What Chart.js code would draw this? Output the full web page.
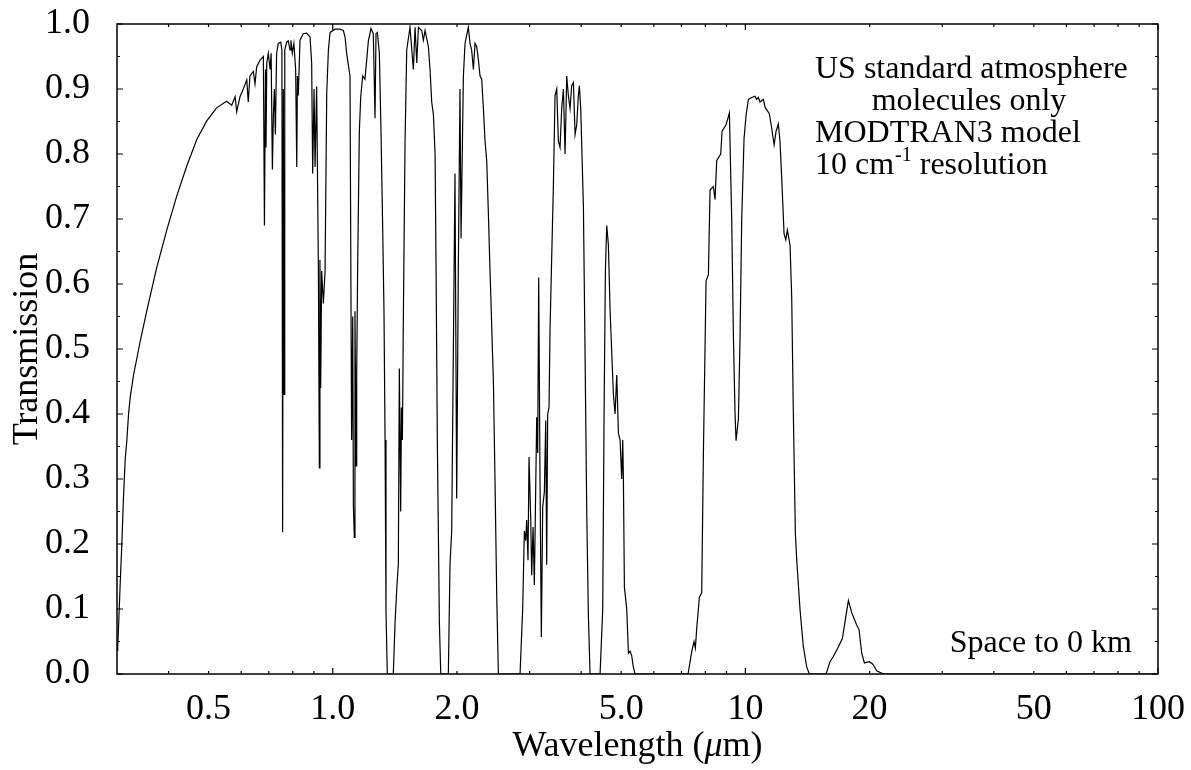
<!DOCTYPE html>
<html>
<head>
<meta charset="utf-8">
<script src="https://cdn.jsdelivr.net/npm/chart.js@4.4.1/dist/chart.umd.min.js"></script>
<style>
  html, body { margin: 0; padding: 0; background: #fff; }
</style>
</head>
<body>
<canvas id="graph" width="1191" height="770"></canvas>
<script>
// Wavelength (um) and transmission
const wavelength = [
  0.301, 0.305, 0.308, 0.311, 0.314, 0.317, 0.320, 0.323, 0.329, 0.335,
  0.341, 0.354, 0.374, 0.396, 0.419, 0.443, 0.468, 0.495, 0.523, 0.553,
  0.569, 0.580, 0.585, 0.596, 0.607, 0.619, 0.624, 0.630, 0.642, 0.648,
  0.654, 0.666, 0.679, 0.683, 0.687, 0.689, 0.692, 0.698, 0.705, 0.709,
  0.714, 0.718, 0.722, 0.726, 0.731, 0.738, 0.748, 0.753, 0.756, 0.759,
  0.762, 0.765, 0.773, 0.780, 0.788, 0.792, 0.798, 0.805, 0.813, 0.818,
  0.821, 0.825, 0.833, 0.848, 0.864, 0.881, 0.889, 0.894, 0.901, 0.906,
  0.914, 0.923, 0.928, 0.931, 0.935, 0.940, 0.949, 0.958, 0.967, 0.976,
  0.985, 1.013, 1.041, 1.061, 1.071, 1.081, 1.101, 1.111, 1.118, 1.122,
  1.128, 1.132, 1.139, 1.143, 1.149, 1.160, 1.169, 1.182, 1.197, 1.220,
  1.238, 1.254, 1.266, 1.273, 1.283, 1.297, 1.309, 1.321, 1.331, 1.339,
  1.346, 1.356, 1.402, 1.416, 1.429, 1.442, 1.450, 1.461, 1.467, 1.475,
  1.483, 1.497, 1.511, 1.539, 1.568, 1.583, 1.598, 1.613, 1.643, 1.658,
  1.674, 1.705, 1.721, 1.737, 1.754, 1.770, 1.780, 1.793, 1.813, 1.827,
  1.906, 1.924, 1.942, 1.978, 1.997, 2.015, 2.034, 2.046, 2.073, 2.092,
  2.131, 2.151, 2.171, 2.192, 2.212, 2.233, 2.254, 2.275, 2.296, 2.318,
  2.339, 2.361, 2.383, 2.405, 2.419, 2.437, 2.451, 2.474, 2.497, 2.520,
  2.844, 2.886, 2.913, 2.935, 2.951, 2.973, 2.990, 3.018, 3.035, 3.058,
  3.080, 3.121, 3.138, 3.156, 3.179, 3.203, 3.227, 3.257, 3.282, 3.300,
  3.318, 3.343, 3.362, 3.393, 3.425, 3.457, 3.490, 3.522, 3.555, 3.588,
  3.622, 3.656, 3.690, 3.724, 3.759, 3.794, 3.830, 3.866, 3.902, 3.938,
  3.960, 3.990, 4.050, 4.088, 4.126, 4.164, 4.203, 4.445, 4.511, 4.545,
  4.579, 4.613, 4.656, 4.700, 4.788, 4.833, 4.878, 4.924, 4.970, 5.016,
  5.044, 5.063, 5.091, 5.158, 5.206, 5.255, 5.304, 5.353, 5.404, 7.262,
  7.412, 7.509, 7.565, 7.622, 7.736, 7.837, 7.911, 8.030, 8.135, 8.211,
  8.365, 8.443, 8.522, 8.715, 8.780, 8.978, 9.062, 9.146, 9.266, 9.353,
  9.440, 9.493, 9.618, 9.708, 9.798, 9.925, 10.04, 10.17, 10.36, 10.55,
  10.65, 10.75, 10.85, 11.06, 11.16, 11.27, 11.43, 11.58, 11.74, 11.87,
  12.02, 12.13, 12.25, 12.41, 12.53, 12.64, 12.83, 12.95, 13.07, 13.22,
  13.32, 13.57, 13.82, 14.08, 14.29, 15.69, 16.04, 16.34, 16.81, 17.19,
  17.51, 17.77, 18.11, 18.62, 18.86, 19.14, 19.43, 19.98, 20.36, 20.81,
  21.60, 100
];
const transmission = [
  0.035, 0.13, 0.195, 0.27, 0.33, 0.36, 0.40, 0.426, 0.46, 0.485,
  0.51, 0.558, 0.624, 0.683, 0.736, 0.782, 0.822, 0.851, 0.871, 0.881,
  0.875, 0.888, 0.865, 0.888, 0.90, 0.914, 0.88, 0.92, 0.927, 0.908,
  0.934, 0.944, 0.95, 0.69, 0.93, 0.81, 0.94, 0.955, 0.93, 0.955,
  0.776, 0.86, 0.90, 0.83, 0.955, 0.97, 0.972, 0.96, 0.218, 0.90,
  0.43, 0.96, 0.972, 0.974, 0.96, 0.975, 0.955, 0.97, 0.93, 0.78,
  0.92, 0.89, 0.975, 0.985, 0.986, 0.98, 0.94, 0.77, 0.90, 0.78,
  0.904, 0.624, 0.317, 0.637, 0.44, 0.62, 0.57, 0.62, 0.894, 0.96,
  0.987, 0.992, 0.992, 0.99, 0.98, 0.954, 0.92, 0.36, 0.55, 0.26,
  0.21, 0.558, 0.32, 0.465, 0.624, 0.835, 0.888, 0.92, 0.915, 0.974,
  0.993, 0.985, 0.855, 0.985, 0.987, 0.955, 0.835, 0.69, 0.558, 0.36,
  0.096, 0, 0, 0.08, 0.13, 0.17, 0.47, 0.25, 0.41, 0.36,
  0.55, 0.82, 0.96, 0.995, 0.93, 0.995, 0.94, 0.995, 0.99, 0.975,
  0.99, 0.965, 0.93, 0.88, 0.86, 0.80, 0.62, 0.35, 0.08, 0,
  0, 0.17, 0.22, 0.77, 0.27, 0.62, 0.90, 0.67, 0.92, 0.97,
  0.995, 0.97, 0.96, 0.93, 0.97, 0.965, 0.945, 0.92, 0.915, 0.87,
  0.82, 0.79, 0.71, 0.62, 0.57, 0.50, 0.45, 0.29, 0.12, 0,
  0, 0.10, 0.22, 0.205, 0.237, 0.175, 0.334, 0.24, 0.152, 0.226,
  0.137, 0.395, 0.34, 0.61, 0.30, 0.057, 0.257, 0.28, 0.39, 0.168,
  0.40, 0.41, 0.53, 0.64, 0.75, 0.89, 0.90, 0.82, 0.81, 0.87,
  0.90, 0.80, 0.92, 0.89, 0.87, 0.905, 0.91, 0.83, 0.845, 0.89,
  0.905, 0.87, 0.72, 0.49, 0.25, 0.09, 0, 0, 0.10, 0.40,
  0.62, 0.69, 0.66, 0.56, 0.43, 0.40, 0.46, 0.37, 0.36, 0.30,
  0.36, 0.30, 0.134, 0.10, 0.032, 0.035, 0.028, 0.01, 0, 0,
  0.034, 0.05, 0.04, 0.07, 0.118, 0.125, 0.337, 0.605, 0.614, 0.745,
  0.75, 0.73, 0.79, 0.80, 0.835, 0.845, 0.854, 0.863, 0.70, 0.52,
  0.40, 0.359, 0.392, 0.52, 0.70, 0.823, 0.86, 0.884, 0.887, 0.889,
  0.884, 0.887, 0.88, 0.884, 0.872, 0.868, 0.862, 0.84, 0.814, 0.835,
  0.846, 0.82, 0.762, 0.677, 0.668, 0.683, 0.66, 0.58, 0.40, 0.215,
  0.175, 0.098, 0.042, 0.011, 0, 0, 0.019, 0.027, 0.042, 0.055,
  0.088, 0.113, 0.094, 0.075, 0.068, 0.032, 0.017, 0.019, 0.015, 0.005,
  0, 0
];

const xTickValues = [0.5, 1, 2, 5, 10, 20, 50, 100];
const xTickLabels = ["0.5", "1.0", "2.0", "5.0", "10", "20", "50", "100"];
const yTickValues = [0, 0.1, 0.2, 0.3, 0.4, 0.5, 0.6, 0.7, 0.8, 0.9, 1.0];
const xTitleParts = ["Wavelength (", "\u03bc", "m)"];
const noteLines = ["US standard atmosphere", "molecules only", "MODTRAN3 model"];
const resolutionNote = ["10 cm", "-1", " resolution"];
const cornerNote = "Space to 0 km";

const serif = "'Liberation Serif', 'Times New Roman', serif";

// minor ticks between decades, major ticks on decades
const xMajor = [1, 10, 100];
const xMinor = [];
[0.1, 1, 10].forEach(d => {
  for (let k = 2; k <= 9; k++) {
    const v = +(k * d).toFixed(2);
    if (v > 0.31 && v < 100) xMinor.push(v);
  }
});
const yMinor = yTickValues.slice(0, -1).map(v => +(v + 0.05).toFixed(2));

const frame = {
  id: "frame",
  afterDatasetsDraw(chart) {
    const { ctx, chartArea: a } = chart;
    const x = chart.scales.x;
    const y = chart.scales.y;
    ctx.save();
    ctx.strokeStyle = "#000";
    ctx.lineWidth = 1.5;
    ctx.strokeRect(a.left, a.top, a.right - a.left, a.bottom - a.top);

    ctx.lineWidth = 1.2;
    ctx.beginPath();
    const tickX = (v, len) => {
      const px = x.getPixelForValue(v);
      ctx.moveTo(px, a.bottom); ctx.lineTo(px, a.bottom - len);
      ctx.moveTo(px, a.top); ctx.lineTo(px, a.top + len);
    };
    const tickY = (v, len) => {
      const py = y.getPixelForValue(v);
      ctx.moveTo(a.left, py); ctx.lineTo(a.left + len, py);
      ctx.moveTo(a.right, py); ctx.lineTo(a.right - len, py);
    };
    xMinor.forEach(v => tickX(v, 3));
    xMajor.forEach(v => tickX(v, 6));
    yMinor.forEach(v => tickY(v, 3));
    yTickValues.forEach(v => tickY(v, 6));
    ctx.stroke();

    ctx.fillStyle = "#000";
    ctx.textBaseline = "alphabetic";

    // x axis title with italic mu
    const upright = "36px " + serif;
    const italic = "italic 36px " + serif;
    ctx.font = upright;
    const w0 = ctx.measureText(xTitleParts[0]).width;
    const w2 = ctx.measureText(xTitleParts[2]).width;
    ctx.font = italic;
    const w1 = ctx.measureText(xTitleParts[1]).width;
    let tx = (a.left + a.right) / 2 - (w0 + w1 + w2) / 2;
    ctx.textAlign = "left";
    ctx.font = upright;
    ctx.fillText(xTitleParts[0], tx, 756);
    ctx.font = italic;
    ctx.fillText(xTitleParts[1], tx + w0, 756);
    ctx.font = upright;
    ctx.fillText(xTitleParts[2], tx + w0 + w1, 756);

    // text notes
    ctx.font = "32px " + serif;
    ctx.fillText(noteLines[0], 815, 78);
    ctx.textAlign = "center";
    ctx.fillText(noteLines[1], 969, 110);
    ctx.textAlign = "left";
    ctx.fillText(noteLines[2], 815, 142);

    let cx = 815;
    ctx.fillText(resolutionNote[0], cx, 174);
    cx += ctx.measureText(resolutionNote[0]).width + 1;
    ctx.font = "20px " + serif;
    ctx.fillText(resolutionNote[1], cx, 161);
    cx += ctx.measureText(resolutionNote[1]).width;
    ctx.font = "32px " + serif;
    ctx.fillText(resolutionNote[2], cx, 174);

    ctx.textAlign = "right";
    ctx.fillText(cornerNote, 1132, 652);
    ctx.restore();
  }
};

new Chart(document.getElementById("graph"), {
  type: "line",
  data: {
    datasets: [
      {
        label: "Transmission",
        data: wavelength.map((w, i) => ({ x: w, y: transmission[i] })),
        borderColor: "#000",
        borderWidth: 1.2,
        pointRadius: 0,
        tension: 0,
        fill: false,
      },
    ],
  },
  options: {
    responsive: false,
    animation: false,
    layout: { padding: { left: 0, top: 24, right: 33, bottom: 0 } },
    plugins: { legend: { display: false }, tooltip: { enabled: false } },
    scales: {
      x: {
        type: "logarithmic",
        min: 0.3,
        max: 100,
        grid: { display: false },
        border: { display: false },
        afterBuildTicks: (scale) => {
          scale.ticks = xTickValues.map(v => ({ value: v }));
        },
        afterFit: (scale) => {
          scale.height = 96;
          scale.paddingLeft = 0;
          scale.paddingRight = 0;
        },
        ticks: {
          autoSkip: false,
          maxRotation: 0,
          padding: 6,
          color: "#000",
          font: { family: serif, size: 36, lineHeight: 1.2 },
          callback: (value, index) => xTickLabels[index],
        },
        title: { display: false, text: "Wavelength (\u03bcm)" },
      },
      y: {
        min: 0,
        max: 1,
        grid: { display: false },
        border: { display: false },
        afterBuildTicks: (scale) => {
          scale.ticks = yTickValues.map(v => ({ value: v }));
        },
        afterFit: (scale) => {
          scale.width = 117;
          scale.paddingTop = 0;
          scale.paddingBottom = 0;
        },
        ticks: {
          padding: 19,
          color: "#000",
          font: { family: serif, size: 36 },
          callback: (value) => value.toFixed(1),
        },
        title: {
          display: true,
          text: "Transmission",
          color: "#000",
          padding: { top: 6, bottom: 0 },
          font: { family: serif, size: 36, lineHeight: 1.2 },
        },
      },
    },
  },
  plugins: [frame],
});
</script>
</body>
</html>
